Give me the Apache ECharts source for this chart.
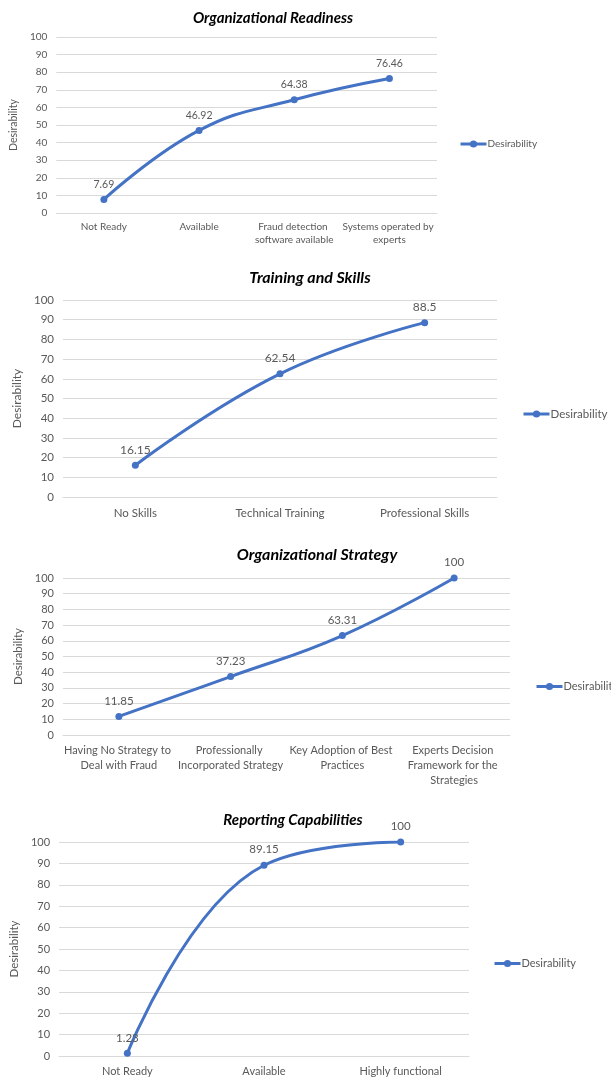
<!DOCTYPE html>
<html>
<head>
<meta charset="utf-8">
<script src="https://cdn.jsdelivr.net/npm/echarts@6/dist/echarts.min.js"></script>
<style>
  html, body { margin: 0; padding: 0; background: #ffffff; }
  #chart { width: 611px; height: 1078px; }
</style>
</head>
<body>
<div id="chart"></div>
<script>
// Desirability scores for each assessment dimension
const seriesName = 'Desirability';

const readinessTitle = 'Organizational Readiness';
const readinessCategories = ['Not Ready', 'Available', 'Fraud detection software available', 'Systems operated by experts'];
const readinessValues = [7.69, 46.92, 64.38, 76.46];

const trainingTitle = 'Training and Skills';
const trainingCategories = ['No Skills', 'Technical Training', 'Professional Skills'];
const trainingValues = [16.15, 62.54, 88.5];

const strategyTitle = 'Organizational Strategy';
const strategyCategories = ['Having No Strategy to Deal with Fraud', 'Professionally Incorporated Strategy', 'Key Adoption of Best Practices', 'Experts Decision Framework for the Strategies'];
const strategyValues = [11.85, 37.23, 63.31, 100];

const reportingTitle = 'Reporting Capabilities';
const reportingCategories = ['Not Ready', 'Available', 'Highly functional'];
const reportingValues = [1.23, 89.15, 100];

const yMin = 0, yMax = 100, yStep = 10;

// Layout of the four stacked panels
const panels = [
  { title: readinessTitle, cats: readinessCategories, vals: readinessValues,
    grid: { left: 55, top: 37, width: 382, height: 176 },
    titleX: 268, titleY: 6, titleSize: 15,
    legendX: 454, legendY: 134,
    font: 10, nameGap: 35, labelWidth: 95, lineHeight: 13, xMargin: 7 },
  { title: trainingTitle, cats: trainingCategories, vals: trainingValues,
    grid: { left: 63, top: 300, width: 434, height: 197 },
    titleX: 305, titleY: 265, titleSize: 16,
    legendX: 517, legendY: 403,
    font: 11.5, nameGap: 39, labelWidth: 140, lineHeight: 14, xMargin: 9 },
  { title: strategyTitle, cats: strategyCategories, vals: strategyValues,
    grid: { left: 63, top: 578, width: 447, height: 157 },
    titleX: 312, titleY: 542, titleSize: 16,
    legendX: 530, legendY: 676,
    font: 11, nameGap: 39, labelWidth: 122, lineHeight: 15, xMargin: 8 },
  { title: reportingTitle, cats: reportingCategories, vals: reportingValues,
    grid: { left: 59, top: 842, width: 410, height: 214 },
    titleX: 288, titleY: 808, titleSize: 15,
    legendX: 488, legendY: 953,
    font: 11, nameGap: 37, labelWidth: 130, lineHeight: 14, xMargin: 8 }
];

const FONT = 'Lato, "Liberation Sans", sans-serif';
const BLUE = '#4472C4';
const GREY = '#595959';
const GRID_LINE = '#d9d9d9';

const option = {
  backgroundColor: '#ffffff',
  animation: false,
  title: panels.map(p => ({
    text: p.title,
    left: p.titleX,
    top: p.titleY,
    textAlign: 'center',
    textStyle: { fontFamily: FONT, fontSize: p.titleSize, fontWeight: 'bold', fontStyle: 'italic', color: '#000000' }
  })),
  legend: panels.map(p => ({
    data: [seriesName],
    left: p.legendX,
    top: p.legendY,
    selectedMode: false,
    itemWidth: 26,
    itemHeight: 9,
    itemGap: 2,
    lineStyle: { width: 3 },
    textStyle: { fontFamily: FONT, fontSize: p.font, color: GREY, padding: [0, 0, 0, -4] }
  })),
  grid: panels.map(p => Object.assign({ containLabel: false }, p.grid)),
  xAxis: panels.map((p, i) => ({
    type: 'category',
    gridIndex: i,
    data: p.cats,
    boundaryGap: true,
    axisLine: { show: true, lineStyle: { color: GRID_LINE, width: 1 } },
    axisTick: { show: false },
    axisLabel: {
      interval: 0, color: GREY, fontFamily: FONT, fontSize: p.font,
      width: p.labelWidth, overflow: 'break', lineHeight: p.lineHeight, margin: p.xMargin
    }
  })),
  yAxis: panels.map((p, i) => ({
    type: 'value',
    gridIndex: i,
    min: yMin, max: yMax, interval: yStep,
    name: seriesName,
    nameLocation: 'middle',
    nameGap: p.nameGap,
    nameTextStyle: { fontFamily: FONT, fontSize: p.font + 0.5, color: GREY },
    axisLine: { show: false },
    axisTick: { show: false },
    splitLine: { lineStyle: { color: GRID_LINE, width: 1 } },
    axisLabel: { color: GREY, fontFamily: FONT, fontSize: p.font, margin: 9 }
  })),
  series: panels.map((p, i) => ({
    name: seriesName,
    type: 'line',
    xAxisIndex: i,
    yAxisIndex: i,
    data: p.vals,
    smooth: 0.45,
    symbol: 'circle',
    symbolSize: 7,
    lineStyle: { color: BLUE, width: 3 },
    itemStyle: { color: BLUE },
    label: { show: true, position: 'top', distance: 6, color: GREY, fontFamily: FONT, fontSize: p.font + 0.5 }
  }))
};

const chart = echarts.init(document.getElementById('chart'), null, { renderer: 'canvas' });
chart.setOption(option);
</script>
</body>
</html>
